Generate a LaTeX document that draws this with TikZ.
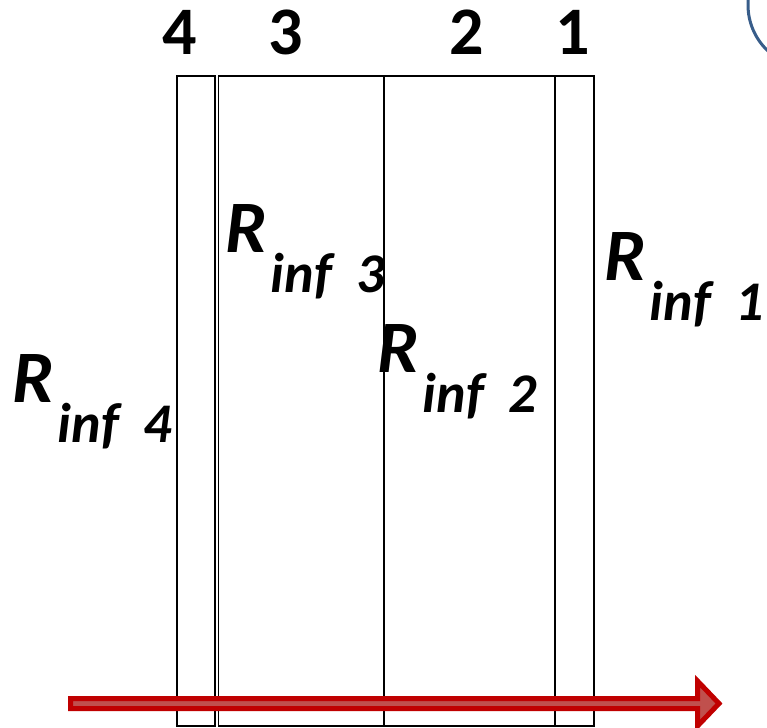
\documentclass[tikz,border=0pt]{standalone}
\usepackage{fontspec}
\setmainfont{Carlito}
\definecolor{arrline}{RGB}{192,0,0}
\definecolor{arrfill}{RGB}{192,80,77}
\definecolor{circblue}{RGB}{56,93,138}
\newcommand\Rlab[1]{\bfseries\itshape\fontsize{74}{86}\selectfont R\hspace{4pt}\raisebox{-40pt}{\fontsize{56}{66}\selectfont\makebox[86pt][l]{inf}#1}}
\tikzset{
  layer/.style={draw=black, line width=1.2pt},
  toplab/.style={inner sep=0pt, anchor=base, font=\bfseries\fontsize{68}{80}\selectfont},
  rlab/.style={inner sep=0pt, anchor=base west},
  blockarrow/.style={draw=arrline, fill=arrfill, line width=5pt, line join=miter, miter limit=10},
}
\begin{document}
\begin{tikzpicture}[x=1pt,y=-1pt]
\useasboundingbox (0,0) rectangle (767,727);
\clip (0,0) rectangle (767,727);
% partial circle top right
\draw[circblue, line width=3pt] (811,5) circle (63);
% layers
\draw[layer] (177,76) rectangle (215,726);
\draw[layer] (218.5,76) rectangle (594,726);
\draw[layer] (384,76) -- (384,726);
\draw[layer] (555,76) -- (555,726);
% layer numbers
\node[toplab] (n4) at (180,55) {4};
\node[toplab] (n3) at (286,55) {3};
\node[toplab] (n2) at (467,55) {2};
\node[toplab] (n1) at (573,55) {1};
% labels
\node[rlab] (r3) at (225,252) {\Rlab{3}};
\node[rlab] (r2) at (377,372) {\Rlab{2}};
\node[rlab] (r1) at (604,280) {\Rlab{1}};
\node[rlab] (r4) at (12,402) {\Rlab{4}};
% arrow
\draw[blockarrow] (70.5,698.5) -- (697.5,698.5) -- (697.5,681) -- (719,703.5) -- (697.5,726) -- (697.5,708.5) -- (70.5,708.5) -- cycle;
\end{tikzpicture}
\end{document}
